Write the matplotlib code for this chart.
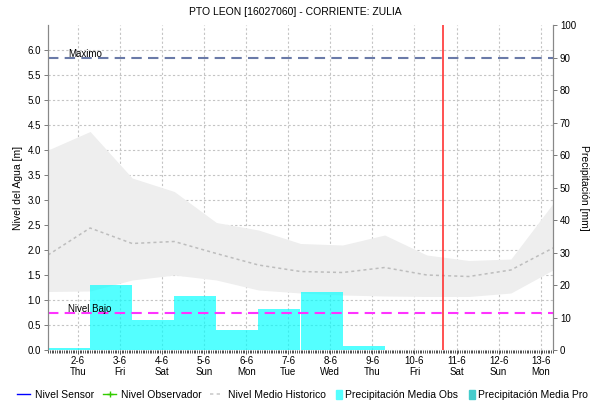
import datetime as dt
import matplotlib
matplotlib.use("Agg")
import matplotlib.pyplot as plt
import matplotlib.dates as mdates
import matplotlib.transforms as mtransforms
from matplotlib.lines import Line2D
from matplotlib.patches import Patch

plt.rcParams['font.family'] = ['Liberation Sans', 'DejaVu Sans']

# rango de fechas del grafico
t_ini = dt.datetime(2022, 6, 1, 7, 0)
t_fin = dt.datetime(2022, 6, 13, 7, 0)
t_hoy = dt.datetime(2022, 6, 10, 16, 0)

# historico diario (07:00) en metros
dias_hist = [t_ini + dt.timedelta(days=k) for k in range(13)]
hist_max = [4.00, 4.37, 3.44, 3.17, 2.55, 2.40, 2.13, 2.10, 2.30, 1.90, 1.79, 1.82, 2.93]
hist_min = [1.17, 1.18, 1.40, 1.50, 1.40, 1.20, 1.14, 1.10, 1.08, 1.07, 1.07, 1.14, 1.60]
hist_medio = [1.90, 2.44, 2.13, 2.17, 1.93, 1.70, 1.57, 1.55, 1.65, 1.50, 1.47, 1.60, 2.04]

# precipitacion media observada (mm), acumulado diario 07:00 - 07:00
dias_prec = [t_ini + dt.timedelta(days=k) for k in range(8)]
prec_obs = [0.5, 20.0, 9.2, 16.6, 6.2, 12.6, 17.8, 1.2]

nivel_maximo = 5.85
nivel_bajo = 0.74

fig = plt.figure(figsize=(5.9, 4.12), dpi=100)
ax = fig.add_axes([48/590, 62/412, 505/590, 325/412])
ax2 = ax.twinx()

# banda y media historica
ax.fill_between(dias_hist, hist_min, hist_max, color='#eeeeee', lw=0, zorder=1)
ax.plot(dias_hist, hist_medio, color='#bdbdbd', ls=(0, (2, 2)), lw=1.1, zorder=2)

# barras de precipitacion
ax2.bar(dias_prec, prec_obs, width=1.0, align='edge', color='#00ffff', alpha=0.67, lw=0)

# umbrales sobre las barras
trans = mtransforms.blended_transform_factory(ax2.transAxes, ax.transData)
ax2.plot([0, 1], [nivel_maximo]*2, transform=trans, color='#6a7aa8', ls=(0, (5, 3)), lw=1.5)
ax2.plot([0, 1], [nivel_bajo]*2, transform=trans, color='#ff33ff', ls=(0, (5, 3)), lw=1.5)
ax2.text(0.04, nivel_maximo - 0.02, 'Maximo', transform=trans, fontsize=7, va='bottom')
ax2.text(0.04, nivel_bajo - 0.01, 'Nivel Bajo', transform=trans, fontsize=7, va='bottom')
ax2.axvline(t_hoy, color='#ff3333', lw=1.2)

ax.set_xlim(t_ini, t_fin)
ax.set_ylim(0, 6.5)
ax2.set_ylim(0, 100)
ax.set_yticks([i * 0.5 for i in range(13)])
ax.set_yticklabels([f'{i*0.5:.1f}' for i in range(13)])
ax2.set_yticks(range(0, 101, 10))

ax.xaxis.set_major_locator(mdates.DayLocator())
ax.xaxis.set_minor_locator(mdates.HourLocator())
ax.xaxis.set_major_formatter(mdates.DateFormatter('%-d-%-m\n%a'))

ax.grid(True, color='#c4c4c4', ls=(0, (2, 2)), lw=0.8)
ax.set_axisbelow(True)

for a in (ax, ax2):
    a.spines['top'].set_visible(False)
    a.spines['left'].set_color('#888888')
    a.spines['right'].set_color('#888888')
    a.spines['bottom'].set_visible(False)
ax.tick_params(axis='both', labelsize=7, length=3, width=0.6, color='#666666', pad=2)
ax.tick_params(axis='x', which='minor', length=2, width=0.6, color='#333333')
ax.tick_params(axis='x', which='major', length=3, color='#333333', pad=1)
ax2.tick_params(axis='y', labelsize=7, length=3, width=0.6, color='#666666', pad=2)

ax.set_ylabel('Nivel del Agua [m]', fontsize=7.5, labelpad=3)
ax2.set_ylabel('Precipitación [mm]', fontsize=7.5, rotation=270, labelpad=9)
fig.suptitle('PTO LEON [16027060] - CORRIENTE: ZULIA', fontsize=7.5, y=0.982)

# leyenda: una entrada por caja, colocadas en fila
entradas = [
    (Line2D([], [], color='#0000ff', lw=1), 'Nivel Sensor'),
    (Line2D([], [], color='#33cc00', lw=1, marker='+', markersize=4), 'Nivel Observador'),
    (Line2D([], [], color='#cccccc', lw=1.2, ls=(0, (2, 2))), 'Nivel Medio Historico'),
    (Patch(color='#55ffff'), 'Precipitación Media Obs'),
    (Patch(color='#44cccc'), 'Precipitación Media Pro'),
]
x_px = [17, 103, 210, 336, 469]
for (h, lab), x0 in zip(entradas, x_px):
    es_parche = isinstance(h, Patch)
    fig.legend([h], [lab], loc='center left', bbox_to_anchor=(x0/590, 0.041),
               frameon=False, fontsize=7.5, borderpad=0, borderaxespad=0,
               handlelength=0.6 if es_parche else 1.25,
               handletextpad=0.3 if es_parche else 0.45, handleheight=0.9)

fig.savefig('out.png', dpi=100)
